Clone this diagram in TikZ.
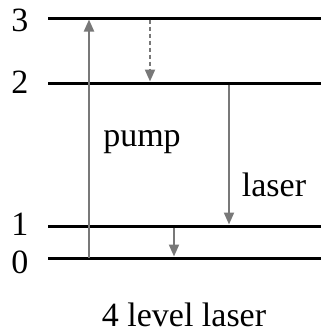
\documentclass[tikz,border=0pt]{standalone}
\usepackage{fontspec}
\setmainfont{Liberation Serif}
\usetikzlibrary{arrows.meta}
\begin{document}
\begin{tikzpicture}[x=1pt,y=-1pt,
  level/.style={line width=3pt,black},
  trans/.style={line width=2pt,draw={rgb,255:red,120;green,120;blue,120},-{Triangle[length=12pt,width=10pt]}},
  lab/.style={font=\fontsize{34}{36}\selectfont,inner sep=0pt},
]
\useasboundingbox (0,0) rectangle (321,333);
% levels
\coordinate (l3a) at (48,18);  \coordinate (l3b) at (321,18);
\coordinate (l2a) at (48,83);  \coordinate (l2b) at (321,83);
\coordinate (l1a) at (48,226); \coordinate (l1b) at (321,226);
\coordinate (l0a) at (48,258); \coordinate (l0b) at (321,258);
\draw[level] (l3a) -- (l3b);
\draw[level] (l2a) -- (l2b);
\draw[level] (l1a) -- (l1b);
\draw[level] (l0a) -- (l0b);
\node[lab] (n3) at (20,20) {3};
\node[lab] (n2) at (20,82) {2};
\node[lab] (n1) at (20,224) {1};
\node[lab] (n0) at (20,262) {0};
% transitions
\coordinate (p0) at (89,258); \coordinate (p3) at (89,19.5);
\draw[trans] (p0) -- (p3);
\coordinate (d3) at (150,19.5); \coordinate (d2) at (150,81.5);
\draw[trans,dashed,dash pattern=on 4pt off 3pt] (d3) -- (d2);
\coordinate (s2) at (229,84.5); \coordinate (s1) at (229,224.5);
\draw[trans] (s2) -- (s1);
\coordinate (t1) at (174,227.5); \coordinate (t0) at (174,256.5);
\draw[trans] (t1) -- (t0);
\node[lab] (pump) at (142,142) {pump};
\node[lab] (laser) at (274,185) {laser};
\node[lab] (title) at (184,315) {4 level laser};
\end{tikzpicture}
\end{document}
